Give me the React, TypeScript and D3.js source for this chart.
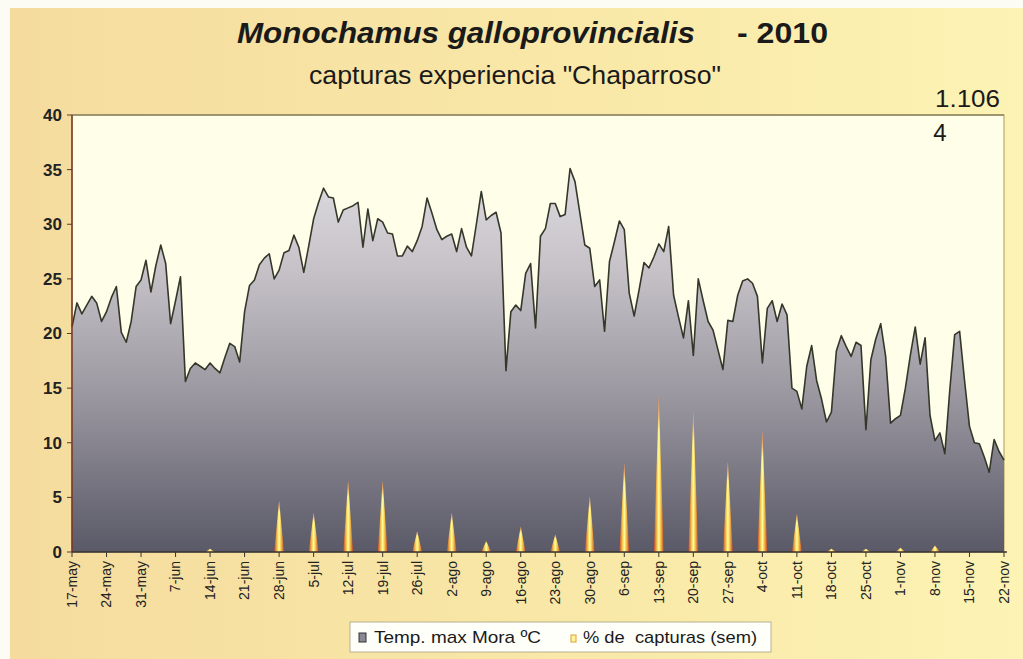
import React from 'react'
import * as d3 from 'd3'

// Temp. max Mora ºC, one value per day from 17-may-2010
const startDate = new Date(2010, 4, 17)
const tempMax = [
  20.6, 22.8, 21.8, 22.6, 23.4, 22.8, 21.1, 22.0, 23.3, 24.3,
  20.1, 19.2, 21.1, 24.3, 24.9, 26.7, 23.8, 26.2, 28.1, 26.4,
  20.9, 23.0, 25.2, 15.6, 16.8, 17.3, 17.0, 16.7, 17.3, 16.8,
  16.4, 17.8, 19.1, 18.8, 17.4, 22.0, 24.4, 24.9, 26.3, 26.9,
  27.3, 25.0, 25.8, 27.4, 27.6, 29.0, 27.9, 25.6, 28.0, 30.5,
  32.0, 33.3, 32.5, 32.4, 30.2, 31.3, 31.5, 31.7, 32.0, 27.9,
  31.4, 28.5, 30.5, 30.2, 29.2, 29.1, 27.1, 27.1, 28.0, 27.5,
  28.5, 29.8, 32.4, 31.0, 29.5, 28.6, 28.9, 29.1, 27.5, 29.6,
  27.9, 27.1, 30.0, 33.0, 30.4, 30.8, 31.1, 29.2, 16.6, 22.0,
  22.6, 22.1, 25.5, 26.4, 20.5, 28.9, 29.6, 31.9, 31.9, 30.7,
  30.9, 35.1, 33.9, 31.0, 28.1, 27.8, 24.3, 24.9, 20.2, 26.6,
  28.4, 30.3, 29.5, 23.7, 21.6, 24.0, 26.5, 26.0, 27.0, 28.2,
  27.5, 29.8, 23.5, 21.5, 19.6, 23.0, 18.0, 25.0, 23.0, 21.1,
  20.3, 18.5, 16.7, 21.2, 21.1, 23.5, 24.8, 25.0, 24.6, 23.4,
  17.3, 22.3, 23.0, 21.1, 22.7, 21.7, 15.0, 14.7, 13.1, 17.0,
  18.9, 15.7, 14.0, 11.9, 12.8, 18.4, 19.8, 18.8, 17.9, 19.2,
  18.9, 11.2, 17.6, 19.5, 20.9, 17.9, 11.8, 12.2, 12.5, 15.0,
  18.0, 20.6, 17.2, 19.6, 12.5, 10.2, 10.9, 9.0, 14.8, 19.9,
  20.2, 15.7, 11.5, 10.0, 9.9, 8.7, 7.3, 10.3, 9.2, 8.4,
]

const tickLabels = [
  '17-may', '24-may', '31-may', '7-jun', '14-jun', '21-jun', '28-jun',
  '5-jul', '12-jul', '19-jul', '26-jul', '2-ago', '9-ago', '16-ago',
  '23-ago', '30-ago', '6-sep', '13-sep', '20-sep', '27-sep', '4-oct',
  '11-oct', '18-oct', '25-oct', '1-nov', '8-nov', '15-nov', '22-nov',
]

// % de capturas (sem), one value per weekly tick
const captures = [
  0, 0, 0, 0, 0.3, 0, 4.7, 3.6, 6.5, 6.5, 1.9, 3.6, 1.0, 2.3,
  1.6, 5.1, 8.1, 14.3, 13.0, 8.3, 11.1, 3.5, 0.3, 0.3, 0.4, 0.6, 0, 0,
]

const yTicks = [0, 5, 10, 15, 20, 25, 30, 35, 40]

const plot = { left: 72, right: 1004, top: 115, bottom: 552 }
const font = '"Liberation Sans", Arial, sans-serif'

export default function App() {
  const days = tempMax.map((_, i) => d3.timeDay.offset(startDate, i))
  const weeks = tickLabels.map((_, i) => d3.timeDay.offset(startDate, i * 7))

  const x = d3
    .scaleTime()
    .domain([startDate, days[days.length - 1]])
    .range([plot.left, plot.right])
  const y = d3.scaleLinear().domain([0, 40]).range([plot.bottom, plot.top])

  const area = d3
    .area<number>()
    .x((_, i) => x(days[i]))
    .y0(y(0))
    .y1((d) => y(d))
  const line = d3
    .line<number>()
    .x((_, i) => x(days[i]))
    .y((d) => y(d))

  // each weekly capture is a narrow peak, zero the day before and after
  const spike = d3
    .area<[Date, number]>()
    .x((d) => x(d[0]))
    .y0(y(0))
    .y1((d) => y(d[1]))
  const spikePath = (d: Date, v: number) =>
    spike([
      [d3.timeDay.offset(d, -1), 0],
      [d, v],
      [d3.timeDay.offset(d, 1), 0],
    ]) ?? ''

  return (
    <svg
      width={1023}
      height={659}
      style={{ position: 'absolute', left: 0, top: 0 }}
      fontFamily={font}
    >
      <defs>
        <linearGradient id="bg" x1="0" x2="1" y1="0" y2="0">
          <stop offset="0%" stopColor="#f5dc9e" />
          <stop offset="60%" stopColor="#f9e9a8" />
          <stop offset="100%" stopColor="#fcf3b4" />
        </linearGradient>
        <linearGradient
          id="tempFill"
          gradientUnits="userSpaceOnUse"
          x1="0"
          x2="0"
          y1={plot.top}
          y2={plot.bottom}
        >
          <stop offset="0%" stopColor="#ecebee" />
          <stop offset="35%" stopColor="#c6c2c8" />
          <stop offset="65%" stopColor="#99969f" />
          <stop offset="100%" stopColor="#5a5967" />
        </linearGradient>
        <linearGradient id="spikeH" x1="0" x2="1" y1="0" y2="0">
          <stop offset="0%" stopColor="#c8442a" />
          <stop offset="32%" stopColor="#f4c850" />
          <stop offset="50%" stopColor="#ffff9e" />
          <stop offset="68%" stopColor="#f4c850" />
          <stop offset="100%" stopColor="#c8442a" />
        </linearGradient>
        <linearGradient id="spikeV" x1="0" x2="0" y1="0" y2="1">
          <stop offset="0%" stopColor="#d0402a" stopOpacity={0.9} />
          <stop offset="22%" stopColor="#e06030" stopOpacity={0} />
          <stop offset="100%" stopColor="#e06030" stopOpacity={0} />
        </linearGradient>
      </defs>

      <rect x={0} y={0} width={1023} height={659} fill="#fdfcf4" />
      <rect x={10} y={8} width={1013} height={651} fill="url(#bg)" />

      {/* titles */}
      <text
        x={237}
        y={43}
        fontSize={30}
        fontWeight="bold"
        fontStyle="italic"
        fill="#1a1a1a"
        textLength={458}
        lengthAdjust="spacingAndGlyphs"
      >
        Monochamus galloprovincialis
      </text>
      <text x={737} y={43} fontSize={30} fontWeight="bold" fill="#1a1a1a" textLength={91} lengthAdjust="spacingAndGlyphs">
        - 2010
      </text>
      <text x={309} y={84} fontSize={25} fill="#1a1a1a" textLength={412} lengthAdjust="spacingAndGlyphs">
        capturas experiencia "Chaparroso"
      </text>
      <text x={935} y={107} fontSize={24} fill="#1a1a1a" textLength={65} lengthAdjust="spacingAndGlyphs">
        1.106
      </text>

      {/* plot area */}
      <rect
        x={plot.left}
        y={plot.top}
        width={plot.right - plot.left}
        height={plot.bottom - plot.top}
        fill="#fffee9"
        stroke="#a89c68"
        strokeWidth={1}
      />
      <line x1={plot.left} x2={plot.right} y1={plot.top} y2={plot.top} stroke="#8c8460" strokeWidth={1.5} />
      <text x={940} y={141} textAnchor="middle" fontSize={24} fill="#1a1a1a">
        4
      </text>

      <path d={area(tempMax) ?? ''} fill="url(#tempFill)" />
      <path d={line(tempMax) ?? ''} fill="none" stroke="#34382a" strokeWidth={1.6} strokeLinejoin="round" />

      {captures.map((v, i) =>
        v > 0 ? (
          <g key={i}>
            <path d={spikePath(weeks[i], v)} fill="url(#spikeH)" />
            <path d={spikePath(weeks[i], v)} fill="url(#spikeV)" />
          </g>
        ) : null
      )}

      {/* y axis */}
      <line x1={plot.left} x2={plot.left} y1={plot.top} y2={plot.bottom} stroke="#7a3424" strokeWidth={1.5} />
      {yTicks.map((t) => (
        <g key={t} transform={`translate(0,${y(t)})`}>
          <line x1={plot.left - 5} x2={plot.left} stroke="#5a3a2a" strokeWidth={1} />
          <text x={62} dy="0.35em" textAnchor="end" fontSize={17} fontWeight="bold" fill="#222">
            {t}
          </text>
        </g>
      ))}

      {/* x axis */}
      <line x1={plot.left} x2={plot.right + 3} y1={plot.bottom} y2={plot.bottom} stroke="#3a3530" strokeWidth={1.5} />
      {weeks.map((d, i) => (
        <g key={i} transform={`translate(${x(d)},${plot.bottom})`}>
          <line y1={0} y2={5} stroke="#3a3530" strokeWidth={1} />
          <text
            transform="rotate(-90)"
            x={-9}
            dy="0.35em"
            textAnchor="end"
            fontSize={14}
            fill="#222"
          >
            {tickLabels[i]}
          </text>
        </g>
      ))}

      {/* legend */}
      <rect x={350} y={622} width={421} height={30} fill="#fffffa" stroke="#b8b090" strokeWidth={1} />
      <rect x={359} y={633} width={7} height={9} fill="#8a8894" stroke="#333" strokeWidth={1} />
      <text x={374} y={643} fontSize={17} fill="#1a1a1a" textLength={167} lengthAdjust="spacingAndGlyphs">
        Temp. max Mora ºC
      </text>
      <rect x={571} y={635} width={5} height={7} fill="#fff59a" stroke="#e0a030" strokeWidth={1} />
      <text
        x={583}
        y={643}
        fontSize={17}
        fill="#1a1a1a"
        style={{ whiteSpace: 'pre' }}
        textLength={174}
        lengthAdjust="spacingAndGlyphs"
      >
        % de  capturas (sem)
      </text>
    </svg>
  )
}
